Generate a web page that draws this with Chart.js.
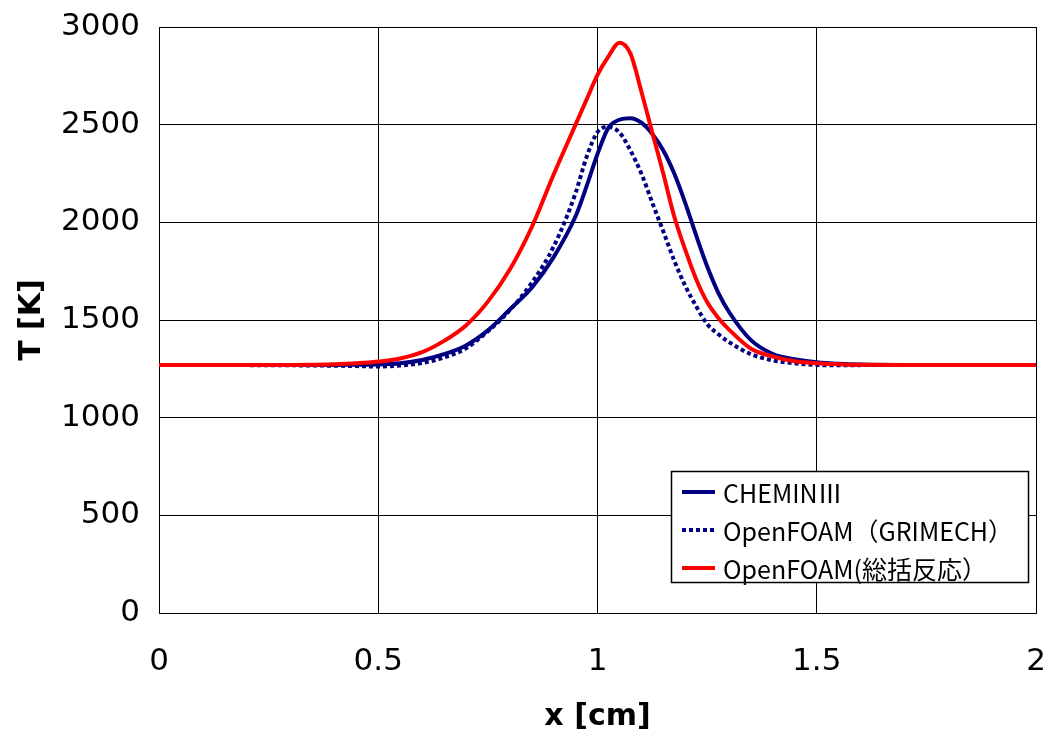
<!DOCTYPE html>
<html>
<head>
<meta charset="utf-8"/>
<script src="https://cdn.jsdelivr.net/npm/chart.js"></script>
<style>
  html, body { margin: 0; padding: 0; background: #ffffff; }
  #wrap { width: 1046px; height: 732px; }
</style>
</head>
<body>
<div id="wrap"><canvas id="myChart" width="1046" height="732"></canvas></div>
<script>
// x positions [cm] shared by all three series
const xValues = [0, 0.1, 0.2, 0.3, 0.35, 0.4, 0.45, 0.5, 0.55, 0.6, 0.65, 0.7, 0.75, 0.8, 0.85, 0.9, 0.95,
  0.975, 1.0, 1.025, 1.05, 1.075, 1.1, 1.125, 1.15, 1.175, 1.2, 1.225, 1.25, 1.275, 1.3, 1.35, 1.4, 1.45,
  1.5, 1.55, 1.6, 1.7, 1.8, 1.9, 2.0];

// temperature [K]
const cheminT = [1270, 1270, 1270, 1270, 1270, 1270, 1271, 1272, 1278, 1295, 1325, 1370, 1447, 1554, 1665, 1822, 2031,
  2184, 2350, 2485, 2525, 2533, 2510, 2452, 2368, 2250, 2100, 1933, 1775, 1642, 1541, 1397, 1326, 1299,
  1284, 1276, 1272, 1270, 1270, 1270, 1270];
const grimechT = [1270, 1270, 1269, 1268, 1267, 1266, 1264, 1262, 1267, 1280, 1308, 1355, 1442, 1550, 1690, 1876, 2150,
  2334, 2462, 2488, 2460, 2368, 2250, 2100, 1954, 1804, 1675, 1570, 1480, 1428, 1387, 1325, 1293, 1278,
  1270, 1268, 1269, 1270, 1270, 1270, 1270];
const soukatsuT = [1270, 1270, 1270, 1270, 1271, 1273, 1278, 1287, 1303, 1335, 1393, 1472, 1594, 1758, 1975, 2245, 2500,
  2628, 2755, 2850, 2920, 2865, 2670, 2459, 2250, 2030, 1860, 1709, 1592, 1512, 1451, 1353, 1313, 1289,
  1279, 1274, 1271, 1270, 1270, 1270, 1270];

const seriesLabels = ["CHEMINⅢ", "OpenFOAM（GRIMECH）", "OpenFOAM(総括反応）"];

const xTicks = [0, 0.5, 1, 1.5, 2];
const yTicks = [0, 500, 1000, 1500, 2000, 2500, 3000];

function toPoints(ys) {
  return xValues.map((x, i) => ({ x: x, y: ys[i] }));
}

// legend drawn inside the plot, like the Excel original
const boxLegend = {
  id: "boxLegend",
  afterDraw(chart) {
    const ctx = chart.ctx;
    const area = chart.chartArea;
    const left = area.right - 365, top = area.top + 444;
    const w = 357, h = 111;
    ctx.save();
    ctx.fillStyle = "#ffffff";
    ctx.fillRect(left, top, w, h);
    ctx.strokeStyle = "#000000";
    ctx.lineWidth = 1.5;
    ctx.strokeRect(left + 0.5, top + 0.5, w, h);
    ctx.font = "25px 'Noto Sans CJK JP', 'DejaVu Sans', sans-serif";
    ctx.textBaseline = "middle";
    ctx.fillStyle = "#000000";
    chart.data.datasets.forEach((ds, i) => {
      const y = top + 21 + i * 38;
      ctx.beginPath();
      ctx.strokeStyle = ds.borderColor;
      ctx.lineWidth = 4;
      ctx.setLineDash(ds.borderDash || []);
      ctx.moveTo(left + 11, y);
      ctx.lineTo(left + 44, y);
      ctx.stroke();
      ctx.setLineDash([]);
      ctx.fillText(ds.label, left + 52, y + 1);
    });
    ctx.restore();
  }
};

const ctx = document.getElementById("myChart").getContext("2d");

new Chart(ctx, {
  type: "line",
  data: {
    datasets: [
      { label: seriesLabels[0], data: toPoints(cheminT), borderColor: "#000080", borderWidth: 4, order: 3 },
      { label: seriesLabels[1], data: toPoints(grimechT), borderColor: "#000080", borderWidth: 4, borderDash: [4, 3], order: 2 },
      { label: seriesLabels[2], data: toPoints(soukatsuT), borderColor: "#ff0000", borderWidth: 4, order: 1 }
    ]
  },
  options: {
    responsive: false,
    animation: false,
    events: [],
    elements: {
      point: { radius: 0 },
      line: { cubicInterpolationMode: "monotone", fill: false }
    },
    layout: { padding: { top: 27, right: 10, left: 0, bottom: 0 } },
    plugins: {
      legend: { display: false },
      tooltip: { enabled: false }
    },
    scales: {
      x: {
        type: "linear",
        min: 0,
        max: 2,
        afterFit(scale) {
          scale.height = 119;
          scale.paddingLeft = 0;
          scale.paddingRight = 0;
        },
        afterBuildTicks(scale) { scale.ticks = xTicks.map(v => ({ value: v })); },
        grid: { color: "#000000", lineWidth: 1, drawTicks: false },
        border: { color: "#000000", width: 1 },
        ticks: {
          padding: 30,
          color: "#000000",
          maxRotation: 0,
          font: { family: "'DejaVu Sans', sans-serif", size: 31 },
          callback: v => String(v)
        },
        title: {
          display: true,
          text: "x [cm]",
          color: "#000000",
          font: { family: "'DejaVu Sans', sans-serif", size: 30, weight: "bold", lineHeight: 1 },
          padding: { top: 0, bottom: 0 }
        }
      },
      y: {
        type: "linear",
        min: 0,
        max: 3000,
        afterFit(scale) {
          scale.width = 159;
          scale.paddingTop = 0;
          scale.paddingBottom = 0;
        },
        afterBuildTicks(scale) { scale.ticks = yTicks.map(v => ({ value: v })); },
        grid: { color: "#000000", lineWidth: 1, drawTicks: false },
        border: { color: "#000000", width: 1 },
        ticks: {
          padding: 19,
          color: "#000000",
          font: { family: "'DejaVu Sans', sans-serif", size: 31 },
          callback: v => String(v)
        },
        title: {
          display: true,
          text: "T [K]",
          color: "#000000",
          font: { family: "'DejaVu Sans', sans-serif", size: 30, weight: "bold", lineHeight: 1 },
          padding: { top: 17, bottom: 0 }
        }
      }
    }
  },
  plugins: [boxLegend]
});
</script>
</body>
</html>
